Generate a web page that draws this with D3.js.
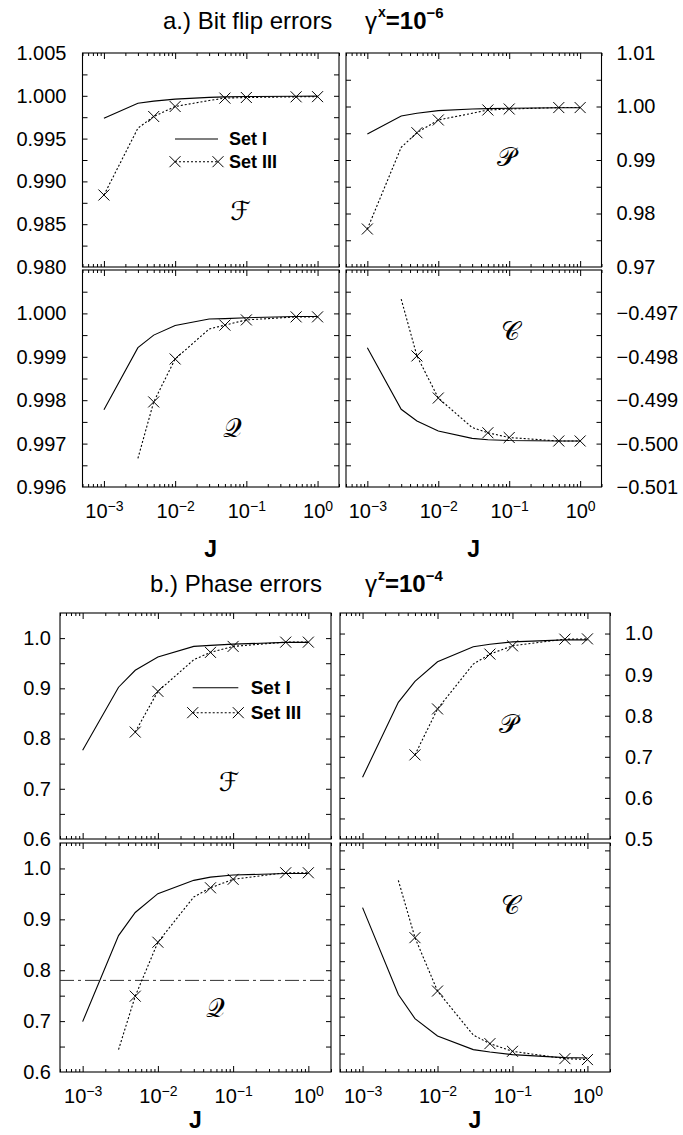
<!DOCTYPE html>
<html><head><meta charset="utf-8">
<script src="https://cdn.jsdelivr.net/npm/d3@7"></script>
<style>
body{margin:0;background:#fff}
text{font-family:"Liberation Sans",Arial,Helvetica,sans-serif;fill:#000}
</style>
</head><body>
<svg id="chart" width="683" height="1135"></svg>
<script>
// ---------------- data ----------------
const J = [0.001, 0.003, 0.005, 0.01, 0.03, 0.05, 0.1, 0.5, 1];
const markerJ = [0.001, 0.005, 0.01, 0.05, 0.1, 0.5, 1];
const xTickValues = [0.001, 0.01, 0.1, 1];
const xTickExponents = ["\u22123", "\u22122", "\u22121", "0"];

// a.) Bit flip errors
const bitF_I   = [0.99739, 0.99914, 0.99938, 0.99961, 0.99982, 0.99987, 0.99992, 0.99995, 0.99996];
const bitF_III = [0.98841, 0.99622, 0.99758, 0.99875, 0.99945, 0.99973, 0.99980, 0.99988, 0.99990];
const bitP_I   = [0.99486, 0.99822, 0.99873, 0.99922, 0.99953, 0.99960, 0.99966, 0.99978, 0.99978];
const bitP_III = [0.97710, 0.99237, 0.99510, 0.99748, 0.99873, 0.99935, 0.99953, 0.99980, 0.99980];
const bitQ_I   = [0.99778, 0.99921, 0.99950, 0.99972, 0.99987, 0.99988, 0.99990, 0.99993, 0.99993];
const bitQ_III = [null, 0.99666, 0.99796, 0.99895, 0.99964, 0.99973, 0.99985, 0.99992, 0.99992];
const bitC_I   = [-0.49779, -0.49921, -0.49948, -0.49971, -0.49988, -0.49991, -0.49993, -0.49994, -0.49994];
const bitC_III = [null, -0.49667, -0.49798, -0.49895, -0.49963, -0.49975, -0.49986, -0.49994, -0.49994];

// b.) Phase errors
const phF_I   = [0.7766, 0.9022, 0.9360, 0.9623, 0.9835, 0.9855, 0.9880, 0.9915, 0.9915];
const phF_III = [null, null, 0.8129, 0.8940, 0.9570, 0.9716, 0.9835, 0.9920, 0.9920];
const phP_I   = [0.6505, 0.8325, 0.8835, 0.9313, 0.9677, 0.9740, 0.9798, 0.9847, 0.9847];
const phP_III = [null, null, 0.7048, 0.8165, 0.9257, 0.9500, 0.9701, 0.9863, 0.9870];
const phQ_I   = [0.699, 0.868, 0.9135, 0.9505, 0.9766, 0.983, 0.987, 0.990, 0.990];
const phQ_III = [null, 0.644, 0.749, 0.855, 0.944, 0.962, 0.9786, 0.9915, 0.9915];
const phC_I   = [-0.2875, -0.4052, -0.4377, -0.4613, -0.4797, -0.4829, -0.4865, -0.4905, -0.4910];
const phC_III = [null, -0.2505, -0.3281, -0.4004, -0.4600, -0.4716, -0.4820, -0.4919, -0.4932];
const phQ_threshold = 0.78;

// y tick values and labels
const bitF_ticks = [0.980, 0.985, 0.990, 0.995, 1.000, 1.005];
const bitF_labels = ["0.980", "0.985", "0.990", "0.995", "1.000", "1.005"];
const bitP_ticks = [0.97, 0.98, 0.99, 1.00, 1.01];
const bitP_labels = ["0.97", "0.98", "0.99", "1.00", "1.01"];
const bitQ_ticks = [0.996, 0.997, 0.998, 0.999, 1.000];
const bitQ_labels = ["0.996", "0.997", "0.998", "0.999", "1.000"];
const bitC_ticks = [-0.501, -0.500, -0.499, -0.498, -0.497];
const bitC_labels = ["\u22120.501", "\u22120.500", "\u22120.499", "\u22120.498", "\u22120.497"];
const phF_ticks = [0.6, 0.7, 0.8, 0.9, 1.0];
const phF_labels = ["0.6", "0.7", "0.8", "0.9", "1.0"];
const phP_ticks = [0.5, 0.6, 0.7, 0.8, 0.9, 1.0];
const phP_labels = ["0.5", "0.6", "0.7", "0.8", "0.9", "1.0"];
const phQ_ticks = [0.6, 0.7, 0.8, 0.9, 1.0];
const phQ_labels = ["0.6", "0.7", "0.8", "0.9", "1.0"];
const phC_ticks = [-0.50, -0.45, -0.40, -0.35, -0.30, -0.25];
const phC_labels = ["\u22120.50", "\u22120.45", "\u22120.40", "\u22120.35", "\u22120.30", "\u22120.25"];

const legendNames = ["Set I", "Set III"];

// ---------------- layout ----------------
const xDomain = [5e-4, 2];
const FONT = 20;
const layoutTop = {
  cols: [[82.5, 339], [346, 601.5]], rows: [[53, 267], [270, 487]],
  labelGapL: 16, labelGapR: 15, xLabelPad: 17, jY: 557,
  legend: {x0: 92.5, x1: 135.5, tx: 146.5, y: [86, 108.7], size: 18}
};
const layoutBot = {
  cols: [[60, 331], [340, 610]], rows: [[613, 839], [843, 1072]],
  labelGapL: 9, labelGapR: 15, xLabelPad: 17, jY: 1128,
  legend: {x0: 132.7, x1: 178.3, tx: 190.7, y: [74.7, 99.7], size: 19}
};

const panels = [
  {L: layoutTop, c: 0, r: 0, s1: bitF_I, s3: bitF_III, dom: [0.980, 1.005], ticks: bitF_ticks, labels: bitF_labels, minor: 0.0025, sym: "\u2131", symAt: [0.083, 0.9865], legend: true},
  {L: layoutTop, c: 1, r: 0, s1: bitP_I, s3: bitP_III, dom: [0.97, 1.01], ticks: bitP_ticks, labels: bitP_labels, minor: 0.005, sym: "\uD835\uDCAB", symAt: [0.093, 0.9906]},
  {L: layoutTop, c: 0, r: 1, s1: bitQ_I, s3: bitQ_III, dom: [0.996, 1.001], ticks: bitQ_ticks, labels: bitQ_labels, minor: 0.0005, sym: "\uD835\uDCAC", symAt: [0.0636, 0.99737], xlab: true},
  {L: layoutTop, c: 1, r: 1, s1: bitC_I, s3: bitC_III, dom: [-0.501, -0.496], ticks: bitC_ticks, labels: bitC_labels, minor: 0.0005, sym: "\uD835\uDC9E", symAt: [0.103, -0.4974], xlab: true},
  {L: layoutBot, c: 0, r: 0, s1: phF_I, s3: phF_III, dom: [0.6, 1.05], ticks: phF_ticks, labels: phF_labels, minor: 0.05, sym: "\u2131", symAt: [0.088, 0.7143], legend: true},
  {L: layoutBot, c: 1, r: 0, s1: phP_I, s3: phP_III, dom: [0.5, 1.05], ticks: phP_ticks, labels: phP_labels, minor: 0.05, sym: "\uD835\uDCAB", symAt: [0.088, 0.781]},
  {L: layoutBot, c: 0, r: 1, s1: phQ_I, s3: phQ_III, dom: [0.6, 1.05], ticks: phQ_ticks, labels: phQ_labels, minor: 0.05, sym: "\uD835\uDCAC", symAt: [0.059, 0.7257], xlab: true, hline: phQ_threshold},
  {L: layoutBot, c: 1, r: 1, s1: phC_I, s3: phC_III, dom: [-0.51, -0.20], ticks: phC_ticks, labels: phC_labels, minor: 0.025, sym: "\uD835\uDC9E", symAt: [0.093, -0.2843], xlab: true}
];

const svg = d3.select("#chart");
svg.append("rect").attr("width", 683).attr("height", 1135).attr("fill", "#fff");

function xMinorTicks() {
  const out = [];
  for (let k = -4; k <= 0; k++) for (let m = 2; m <= 9; m++) {
    const v = m * Math.pow(10, k);
    if (v >= xDomain[0] && v <= xDomain[1]) out.push(v);
  }
  return out;
}

function drawX(g) {
  const sz = 5.5;
  g.append("path")
    .attr("d", `M${-sz},${-sz}L${sz},${sz}M${-sz},${sz}L${sz},${-sz}`)
    .attr("stroke", "#000").attr("stroke-width", 1).attr("fill", "none");
}

panels.forEach((p, i) => {
  const L = p.L;
  const [x0, x1] = L.cols[p.c];
  const [y0, y1] = L.rows[p.r];
  const x = d3.scaleLog().domain(xDomain).range([x0, x1]);
  const y = d3.scaleLinear().domain(p.dom).range([y1, y0]);
  const g = svg.append("g");

  const clipId = "clip" + i;
  g.append("clipPath").attr("id", clipId).append("rect")
    .attr("x", x0).attr("y", y0).attr("width", x1 - x0).attr("height", y1 - y0);

  const allY = d3.range(Math.round((p.dom[1] - p.dom[0]) / p.minor) + 1)
    .map(k => +(p.dom[0] + k * p.minor).toFixed(6));
  const labelFor = v => {
    const idx = p.ticks.findIndex(t => Math.abs(t - v) < p.minor / 10);
    return idx >= 0 ? p.labels[idx] : "";
  };
  const leftLabels = p.c === 0, rightLabels = p.c === 1;

  const ayL = g.append("g").attr("transform", `translate(${x0},0)`)
    .call(d3.axisLeft(y).tickValues(allY).tickSize(-5).tickPadding(leftLabels ? L.labelGapL : 0)
      .tickFormat(v => leftLabels ? labelFor(v) : ""));
  const ayR = g.append("g").attr("transform", `translate(${x1},0)`)
    .call(d3.axisRight(y).tickValues(allY).tickSize(-5).tickPadding(rightLabels ? L.labelGapR : 0)
      .tickFormat(v => rightLabels ? labelFor(v) : ""));
  [ayL, ayR].forEach(a => {
    a.select(".domain").remove();
    a.attr("font-size", FONT).attr("font-family", null);
    a.selectAll(".tick line").attr("stroke", "#000");
    a.selectAll(".tick").filter(d => d <= p.dom[0] + 1e-9 || d >= p.dom[1] - 1e-9).select("line").remove();
  });

  const minorX = xMinorTicks();
  const mk = (axisFn, ty, vals, size) => {
    const a = g.append("g").attr("transform", `translate(0,${ty})`)
      .call(axisFn(x).tickValues(vals).tickSize(size).tickPadding(L.xLabelPad).tickFormat(() => ""));
    a.select(".domain").remove();
    a.attr("font-size", FONT).attr("font-family", null);
    a.selectAll(".tick line").attr("stroke", "#000");
    return a;
  };
  mk(d3.axisBottom, y1, minorX, -3);
  mk(d3.axisTop, y0, minorX, -3);
  mk(d3.axisTop, y0, xTickValues, -6);
  const xb = mk(d3.axisBottom, y1, xTickValues, -6);
  if (p.xlab) {
    xb.selectAll(".tick text").each(function (d, k) {
      const t = d3.select(this);
      t.text(null);
      t.append("tspan").text("10");
      t.append("tspan").attr("dy", "-0.55em").attr("font-size", 14).text(xTickExponents[k]);
    });
    g.append("text").attr("x", (x0 + x1) / 2).attr("y", L.jY)
      .attr("text-anchor", "middle").attr("font-weight", "bold").attr("font-size", 23).text("J");
  }

  g.append("rect").attr("x", x0).attr("y", y0).attr("width", x1 - x0).attr("height", y1 - y0)
    .attr("fill", "none").attr("stroke", "#000").attr("stroke-width", 1.1);

  if (p.hline !== undefined) {
    g.append("line").attr("x1", x0).attr("x2", x1).attr("y1", y(p.hline)).attr("y2", y(p.hline))
      .attr("stroke", "#333").attr("stroke-width", 1).attr("stroke-dasharray", "14,4,3,4");
  }

  const plot = g.append("g").attr("clip-path", `url(#${clipId})`);
  const line = d3.line().defined(d => d[1] != null).x(d => x(d[0])).y(d => y(d[1]));
  const d1 = J.map((j, k) => [j, p.s1[k]]);
  const d3s = J.map((j, k) => [j, p.s3[k]]);
  plot.append("path").attr("d", line(d1)).attr("fill", "none").attr("stroke", "#000").attr("stroke-width", 1.1);
  plot.append("path").attr("d", line(d3s)).attr("fill", "none").attr("stroke", "#000")
    .attr("stroke-width", 1.1).attr("stroke-dasharray", "2,2");
  d3s.filter(d => d[1] != null && markerJ.includes(d[0])).forEach(d => {
    drawX(plot.append("g").attr("transform", `translate(${x(d[0])},${y(d[1])})`));
  });

  g.append("text").attr("x", x(p.symAt[0])).attr("y", y(p.symAt[1]))
    .attr("text-anchor", "middle").attr("dominant-baseline", "central")
    .style("font-family", "'DejaVu Sans','Noto Sans',serif").attr("font-size", 26)
    .text(p.sym);

  if (p.legend) {
    const lg = L.legend;
    const ly1 = y0 + lg.y[0], ly2 = y0 + lg.y[1];
    g.append("line").attr("x1", x0 + lg.x0).attr("x2", x0 + lg.x1).attr("y1", ly1).attr("y2", ly1)
      .attr("stroke", "#000").attr("stroke-width", 1.1);
    g.append("line").attr("x1", x0 + lg.x0).attr("x2", x0 + lg.x1).attr("y1", ly2).attr("y2", ly2)
      .attr("stroke", "#000").attr("stroke-width", 1.1).attr("stroke-dasharray", "2,2");
    [lg.x0, lg.x1].forEach(xx => drawX(g.append("g").attr("transform", `translate(${x0 + xx},${ly2})`)));
    [ly1, ly2].forEach((yy, k) => {
      g.append("text").attr("x", x0 + lg.tx).attr("y", yy).attr("dominant-baseline", "central")
        .attr("font-weight", "bold").attr("font-size", lg.size).text(legendNames[k]);
    });
  }
});

// titles
function title(yBase, xStart, label, sup, exp) {
  svg.append("text").attr("x", xStart).attr("y", yBase).attr("font-size", 24).text(label);
  const t = svg.append("text").attr("x", 365).attr("y", yBase).attr("font-size", 24);
  t.append("tspan").text("\u03B3");
  t.append("tspan").attr("font-weight", "bold").attr("font-size", 14).attr("dy", -12).attr("dx", 1).text(sup);
  t.append("tspan").attr("font-weight", "bold").attr("dy", 12).text("=10");
  t.append("tspan").attr("font-weight", "bold").attr("font-size", 15).attr("dy", -11).text(exp);
}
title(29, 163, "a.) Bit flip errors", "x", "\u22126");
title(592, 150, "b.) Phase errors", "z", "\u22124");
</script>
</body></html>
